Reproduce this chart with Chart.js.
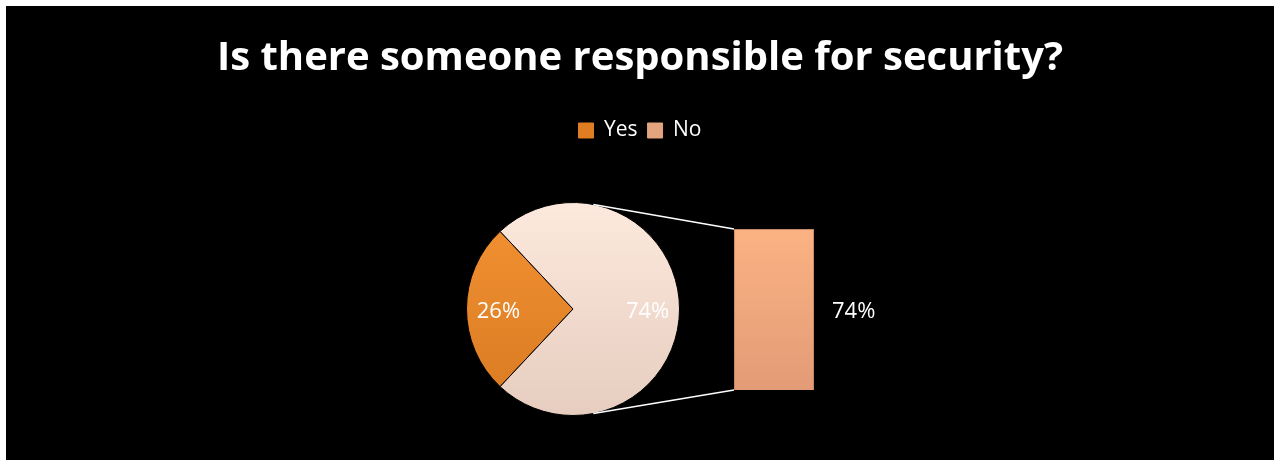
<!DOCTYPE html>
<html>
<head>
<meta charset="utf-8">
<script src="https://cdn.jsdelivr.net/npm/chart.js@4"></script>
<style>
  html, body { margin: 0; background: #fff; }
  #wrap { position: absolute; left: 6px; top: 6px; width: 1268px; height: 454px; background: #000; }
  #wrap canvas { position: absolute; left: 0; top: 0; }
</style>
</head>
<body>
<div id="wrap">
  <canvas id="pieChart" width="1268" height="454"></canvas>
  <canvas id="barChart" width="1268" height="454"></canvas>
</div>
<script>
const title = 'Is there someone responsible for security?';
const categories = ['Yes', 'No'];
const shares = [26, 74];
const barLabels = ['No'];
const barValues = [74];

const FONT = "'Open Sans', sans-serif";

function vGrad(ctx, top, bottom) {
  const chart = ctx.chart;
  const a = chart.chartArea;
  if (!a) return top;
  const g = chart.ctx.createLinearGradient(0, a.top, 0, a.bottom);
  g.addColorStop(0, top);
  g.addColorStop(1, bottom);
  return g;
}

const pieColors = [['#f39233', '#d97a22'], ['#fde9dd', '#e6cdbf']];

// put the pie where it sits in the original (left of centre, below the legend)
const pieArea = {
  id: 'pieArea',
  afterLayout(chart) {
    const a = chart.chartArea;
    a.top = 196;
    a.bottom = 410;
    a.left = 0;
    a.right = 1134;
    a.width = a.right - a.left;
    a.height = a.bottom - a.top;
  }
};

const pieLabels = {
  id: 'pieLabels',
  afterDatasetsDraw(chart) {
    const ctx = chart.ctx;
    const arcs = chart.getDatasetMeta(0).data;
    ctx.save();
    ctx.fillStyle = '#fff';
    ctx.font = '22px ' + FONT;
    ctx.textAlign = 'center';
    ctx.textBaseline = 'middle';
    arcs.forEach((arc, i) => {
      const mid = (arc.startAngle + arc.endAngle) / 2;
      const r = arc.outerRadius * 0.7;
      ctx.fillText(shares[i] + '%', arc.x + Math.cos(mid) * r, arc.y + Math.sin(mid) * r + 3);
    });
    ctx.restore();
  }
};

const pie = new Chart(document.getElementById('pieChart'), {
  type: 'pie',
  data: {
    labels: categories,
    datasets: [{
      data: shares,
      backgroundColor: (c) => vGrad(c, pieColors[c.dataIndex][0], pieColors[c.dataIndex][1]),
      borderColor: '#000',
      borderWidth: 1
    }]
  },
  options: {
    responsive: false,
    animation: false,
    rotation: 270 - shares[0] * 3.6 / 2,
    plugins: {
      title: {
        display: true,
        text: title,
        color: '#fff',
        font: { family: FONT, size: 40, weight: 'bold' },
        padding: { top: 29, bottom: 27 }
      },
      legend: {
        position: 'top',
        labels: {
          color: '#fff',
          font: { family: FONT, size: 21 },
          boxWidth: 15,
          boxHeight: 15,
          padding: 10,
          generateLabels(chart) {
            const items = Chart.overrides.pie.plugins.legend.labels.generateLabels(chart);
            const boxColors = ['#e07d22', '#e3a47f'];
            items.forEach((it, i) => { it.fillStyle = boxColors[i]; it.strokeStyle = boxColors[i]; it.fontColor = '#fff'; });
            return items;
          }
        }
      },
      tooltip: { enabled: false }
    }
  },
  plugins: [pieArea, pieLabels]
});

// connector lines from the pie to the bar, and the bar's label
const barExtras = {
  id: 'barExtras',
  afterDatasetsDraw(chart) {
    const ctx = chart.ctx;
    const bar = chart.getDatasetMeta(0).data[0];
    const arc = pie.getDatasetMeta(0).data[0];
    const left = bar.x - bar.width / 2;
    const a1 = -79 * Math.PI / 180, a2 = 79 * Math.PI / 180;
    ctx.save();
    ctx.strokeStyle = '#fff';
    ctx.lineWidth = 1.5;
    ctx.beginPath();
    ctx.moveTo(arc.x + Math.cos(a1) * arc.outerRadius, arc.y + Math.sin(a1) * arc.outerRadius);
    ctx.lineTo(left, bar.y);
    ctx.moveTo(arc.x + Math.cos(a2) * arc.outerRadius, arc.y + Math.sin(a2) * arc.outerRadius);
    ctx.lineTo(left, bar.base);
    ctx.stroke();
    ctx.fillStyle = '#fff';
    ctx.font = '22px ' + FONT;
    ctx.textAlign = 'left';
    ctx.textBaseline = 'middle';
    ctx.fillText(barValues[0] + '%', bar.x + bar.width / 2 + 18, (bar.y + bar.base) / 2 + 2);
    ctx.restore();
  }
};

new Chart(document.getElementById('barChart'), {
  type: 'bar',
  data: {
    labels: barLabels,
    datasets: [{
      data: barValues,
      backgroundColor: (c) => vGrad(c, '#fbb283', '#e29b76'),
      borderColor: '#b57a5a',
      borderWidth: 1,
      barPercentage: 1,
      categoryPercentage: 1
    }]
  },
  options: {
    responsive: false,
    animation: false,
    layout: { padding: { left: 728, right: 460, top: 223, bottom: 70 } },
    scales: {
      x: { display: false },
      y: { display: false, min: 0, max: Math.max(...barValues) }
    },
    plugins: {
      legend: { display: false },
      tooltip: { enabled: false }
    }
  },
  plugins: [barExtras]
});
</script>
</body>
</html>
